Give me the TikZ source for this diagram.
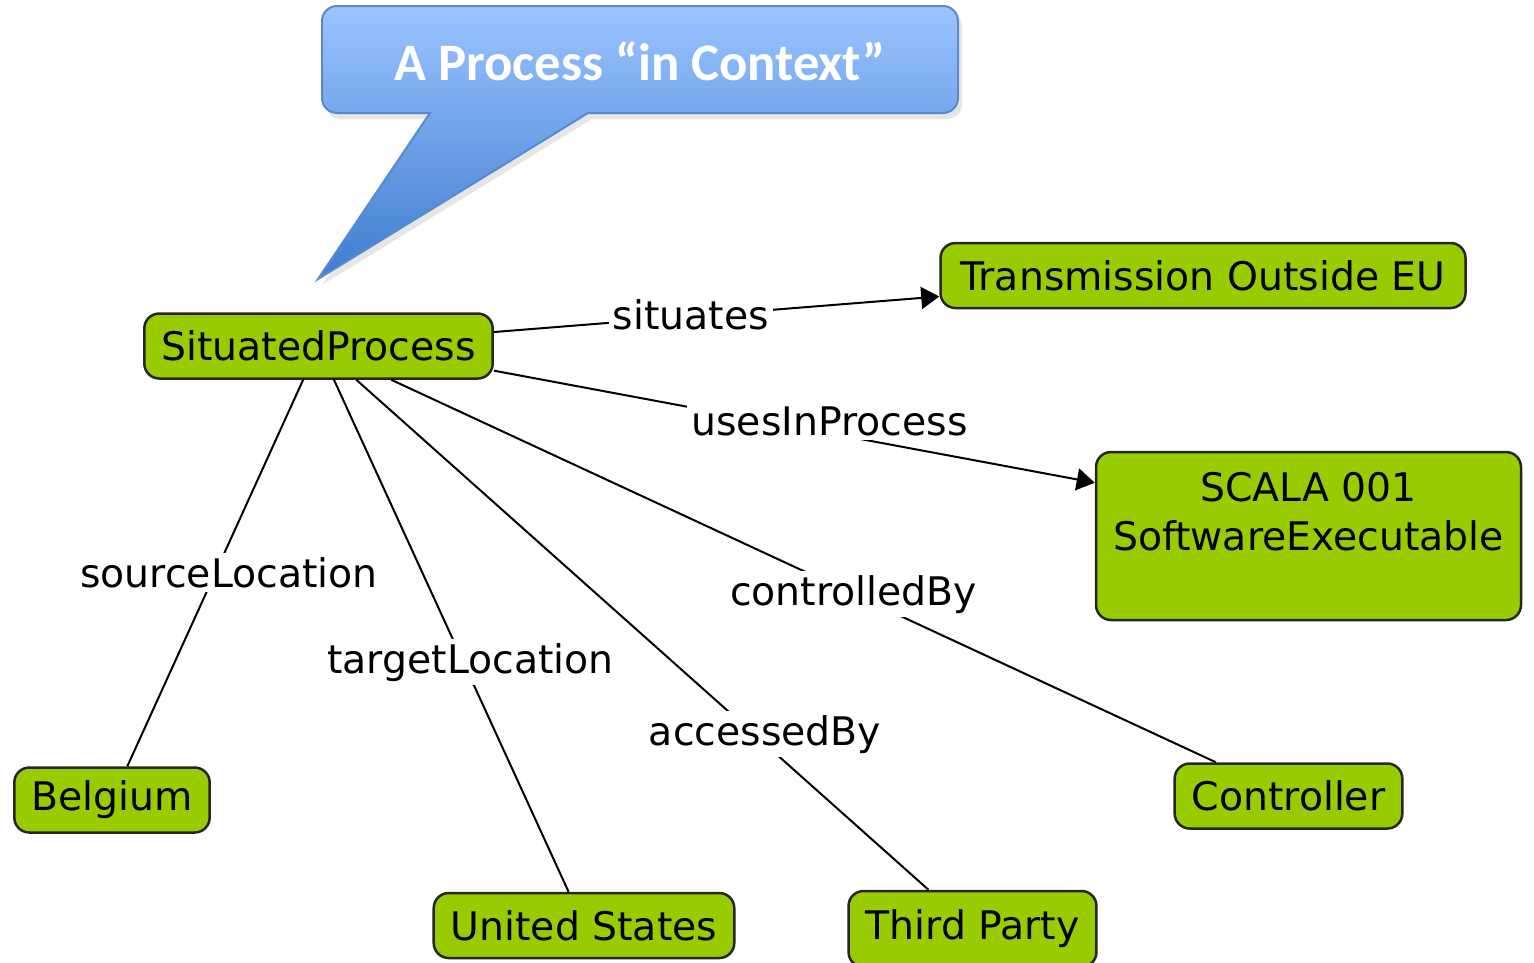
\documentclass[tikz,border=0pt]{standalone}
\usepackage{fontspec}
\setmainfont{DejaVu Sans}
\newfontfamily\calloutfont{Carlito}
\usepackage{tikz}
\usetikzlibrary{arrows,arrows.meta,shapes,positioning,shadows}
\definecolor{conceptgreen}{RGB}{153,204,0}
\definecolor{callouttop}{RGB}{155,196,255}
\definecolor{calloutbottom}{RGB}{62,124,206}
\definecolor{calloutline}{RGB}{88,138,210}

\begin{document}
\begin{tikzpicture}[x=0.1mm,y=-0.1mm]
                    \tikzstyle{every node}+=[font=\fontsize{11.2}{13.9}\selectfont]
                    \tikzstyle{concept}=[draw=black!85, line width=0.25mm, fill=conceptgreen, rounded corners=1.5mm, inner xsep=1.7mm, inner ysep=0pt, minimum height=6.5mm]
                    \tikzstyle{relation}=[fill=white, inner sep=0.4mm, anchor=base]
                    \tikzstyle{edgeline}=[line width=0.2mm]
                    \tikzstyle{relarrow}=[edgeline, -{Triangle[length=1.8mm,width=2.2mm]}]
                    \useasboundingbox (0,0) rectangle (1534,962);
                    % speech bubble
                    \shade [drop shadow={opacity=0.2,shadow xshift=0.4mm,shadow yshift=-0.6mm}, top color=callouttop, bottom color=calloutbottom, draw=calloutline, line width=0.2mm]
                      (588,113) [rounded corners=1.5mm] -- (958,113) -- (958,6) -- (322,6) -- (322,113) [sharp corners] -- (430,113) -- (318,279) -- cycle;
                    \node [text=white, font=\calloutfont\bfseries\fontsize{15}{18}\selectfont] (title) at (640,61) {A Process “in Context”};
                    % concepts
                    \node [concept] (sp) at (318.5,346) {SituatedProcess};
                    \node [concept, inner xsep=2mm] (teu) at (1203,275.5) {Transmission Outside EU};
                    \node [concept, minimum width=42.1mm, minimum height=16.8mm, align=center] (scala) at (1308.5,536) {SCALA 001\\SoftwareExecutable\\\mbox{}};
                    \node [concept] (be) at (112,800) {Belgium};
                    \node [concept] (us) at (584,925.5) {United States};
                    \node [concept, minimum height=7.6mm] (tp) at (972.5,929) {Third Party};
                    \node [concept] (ctl) at (1288.5,796) {Controller};
                    % relations
                    \draw [relarrow] (sp) -- (teu);
                    \draw [relarrow] (sp.-8) -- (scala.166);
                    \draw [edgeline] (sp) -- (be);
                    \draw [edgeline] (sp) -- (us);
                    \draw [edgeline] (sp) -- (tp);
                    \draw [edgeline] (sp) -- (ctl);
                    \node [relation] (situates) at (691,329) {situates};
                    \node [relation] (uses) at (829.5,435) {usesInProcess};
                    \node [relation] (source) at (229,587) {sourceLocation};
                    \node [relation] (target) at (470.5,673) {targetLocation};
                    \node [relation] (accessed) at (765,745) {accessedBy};
                    \node [relation] (controlled) at (853.5,605) {controlledBy};
                \end{tikzpicture}
\end{document}
